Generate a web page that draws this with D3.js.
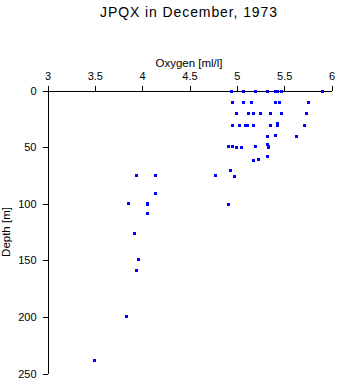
<!DOCTYPE html>
<html>
<head>
<meta charset="utf-8">
<script src="https://cdn.jsdelivr.net/npm/d3@7"></script>
<style>
  html, body { margin: 0; padding: 0; background: #fff; }
  svg { display: block; font-family: "Liberation Sans", Arial, sans-serif; }
</style>
</head>
<body>
<svg id="chart" width="338" height="384"></svg>
<script>
const title = "JPQX in December, 1973";
const xLabel = "Oxygen [ml/l]";
const yLabel = "Depth [m]";
const xTicks = [3, 3.5, 4, 4.5, 5, 5.5, 6];
const yTicks = [0, 50, 100, 150, 200, 250];

const oxygen = [
  4.935, 5.068, 5.195, 5.315, 5.406, 5.427, 5.463, 5.896,
  4.952, 5.062, 5.153, 5.406, 5.445, 5.755,
  4.994, 5.115, 5.174, 5.245, 5.353, 5.466, 5.734,
  4.952, 5.026, 5.083, 5.104, 5.174, 5.353, 5.427, 5.427, 5.713,
  5.315, 5.406, 5.63,
  4.907, 4.952, 4.994, 5.047, 5.195, 5.315, 5.332, 5.332,
  5.315,
  5.174, 5.227,
  4.931,
  4.772, 3.938, 4.139, 4.973,
  4.139,
  3.853, 4.054, 4.054, 4.907,
  4.054,
  3.917, 3.959, 3.938, 3.832, 3.494
];
const depth = [
  0, 0, 0, 0, 0, 0, 0, 0,
  10.4, 10.4, 10.4, 9.8, 10.4, 10.4,
  20.1, 20.1, 20.1, 20.1, 20.1, 20.1, 20.1,
  30.2, 30.2, 30.2, 30.2, 30.2, 30.2, 28.5, 30.2, 30.2,
  40.2, 39.4, 40.2,
  49.3, 49.3, 50.2, 50.2, 49.3, 47.5, 49.3, 50.2,
  57.6,
  61.4, 60.5,
  70.2,
  74.6, 74.6, 74.6, 75.5,
  90.8,
  99.6, 99.0, 100.2, 100.2,
  108.5,
  125.9, 149.1, 158.8, 199.2, 238.3
];

const svg = d3.select("#chart");
const x = d3.scaleLinear().domain([3, 6]).range([47.5, 331.5]);
const y = d3.scaleLinear().domain([0, 250]).range([90.5, 373.5]);

svg.append("text")
  .attr("x", 189).attr("y", 17.3)
  .attr("text-anchor", "middle")
  .attr("font-size", 14).attr("letter-spacing", "0.9px")
  .text(title);

svg.append("text")
  .attr("x", 189).attr("y", 66.7)
  .attr("text-anchor", "middle")
  .attr("font-size", 11.5)
  .text(xLabel);

svg.append("text")
  .attr("transform", "translate(9.7," + 232 + ") rotate(-90)")
  .attr("text-anchor", "middle")
  .attr("font-size", 11.5)
  .text(yLabel);

const xAxis = svg.append("g")
  .attr("transform", "translate(0,90.5)")
  .call(d3.axisTop(x).tickValues(xTicks).tickFormat(d3.format("")).tickSize(5).tickSizeOuter(0).tickPadding(6));

const yAxis = svg.append("g")
  .attr("transform", "translate(47.5,0)")
  .call(d3.axisLeft(y).tickValues(yTicks).tickFormat(d3.format("")).tickSize(5).tickSizeOuter(0).tickPadding(6));

[xAxis, yAxis].forEach(g => {
  g.attr("font-family", null).attr("font-size", 11);
  g.selectAll("path, line").attr("stroke", "#000").attr("shape-rendering", "crispEdges");
  g.selectAll("text").attr("fill", "#000");
});

const pts = oxygen.map((o, i) => ({ o, d: depth[i] }));
svg.append("g").selectAll("rect").data(pts).join("rect")
  .attr("x", p => Math.round(x(p.o)) - 1.5)
  .attr("y", p => Math.round(y(p.d)) - 1.5)
  .attr("width", 3).attr("height", 3)
  .attr("fill", "#0000ff")
  .attr("shape-rendering", "crispEdges");
</script>
</body>
</html>
